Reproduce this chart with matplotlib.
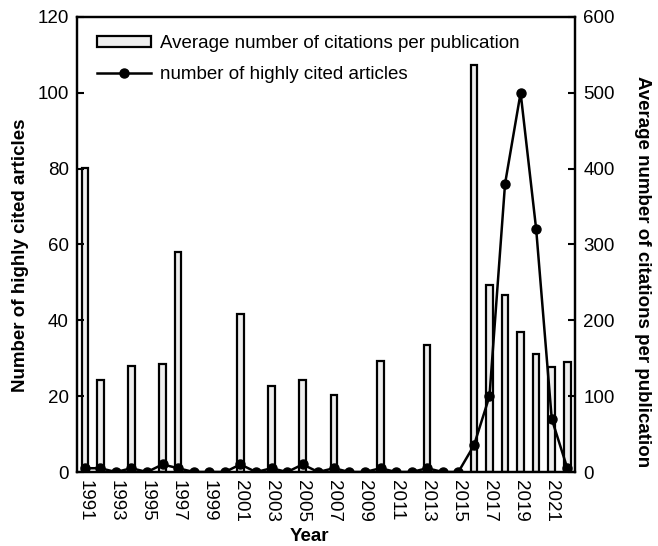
import matplotlib
matplotlib.use('Agg')
from matplotlib import pyplot as plt
import numpy as np

plt.rcParams['font.family'] = ['Arial', 'Liberation Sans', 'DejaVu Sans']

years = list(range(1991, 2023))
# number of highly cited articles (left axis)
highly_cited = [1, 1, 0, 1, 0, 2, 1, 0, 0, 0, 2, 0, 1, 0, 2, 0, 1, 0, 0, 1,
                0, 0, 1, 0, 0, 7, 20, 76, 100, 64, 14, 1]
# average number of citations per publication (right axis), 0 = no bar
avg_citations = [401, 121, 0, 140, 0, 142, 290, 0, 0, 0, 208, 0, 113, 0, 121, 0,
                 102, 0, 0, 146, 0, 0, 167, 0, 0, 537, 247, 233, 185, 156, 139, 145]
tick_years = list(range(1991, 2023, 2))

fig = plt.figure(figsize=(6.58, 5.46), dpi=100)
ax = fig.add_axes([0.117, 0.1355, 0.757, 0.8335])
ax2 = ax.twinx()

bar_x = [y for y, v in zip(years, avg_citations) if v > 0]
bar_h = [v for v in avg_citations if v > 0]
bars = ax2.bar(bar_x, bar_h, width=0.42, color='#eeeeee', edgecolor='black',
               linewidth=1.6, label='Average number of citations per publication')

line, = ax.plot(years, highly_cited, 'k-', marker='o', markersize=6.5, lw=1.8,
                label='number of highly cited articles')

ax.set_zorder(ax2.get_zorder() + 1)
ax.patch.set_visible(False)

ax.set_xlim(1990.5, 2022.5)
ax.set_ylim(0, 120)
ax2.set_ylim(0, 600)
ax.set_yticks(range(0, 121, 20))
ax2.set_yticks(range(0, 601, 100))
ax.set_xticks(tick_years)
ax.set_xticklabels([str(y) for y in tick_years], rotation=-90)

fs = 13.5
ax.tick_params(axis='y', direction='in', length=5, width=1.5, labelsize=fs, pad=6)
ax.tick_params(axis='x', direction='in', length=0, labelsize=fs, pad=6)
ax2.tick_params(axis='y', direction='in', length=5, width=1.5, labelsize=fs, pad=6)

for a in (ax, ax2):
    for s in a.spines.values():
        s.set_linewidth(1.6)

ax.set_xlabel('Year', fontsize=fs, fontweight='bold')
ax.xaxis.set_label_coords(0.466, -0.141)
ax.xaxis.label.set_va('center')
ax.set_ylabel('Number of highly cited articles', fontsize=fs, fontweight='bold')
ax.yaxis.set_label_coords(-0.114, 0.477)
ax.yaxis.label.set_va('center')
ax2.set_ylabel('Average number of citations per publication', fontsize=fs,
               fontweight='bold', rotation=-90)
ax2.yaxis.set_label_coords(1.135, 0.44)
ax2.yaxis.label.set_va('center')

ax.legend([bars, line], [bars.get_label(), line.get_label()], loc='upper left',
          bbox_to_anchor=(0.04, 0.96), frameon=False, fontsize=13.5,
          handlelength=2.9, handleheight=0.5, labelspacing=0.75,
          handletextpad=0.45, borderpad=0, borderaxespad=0)

plt.savefig('out.png', dpi=100)
